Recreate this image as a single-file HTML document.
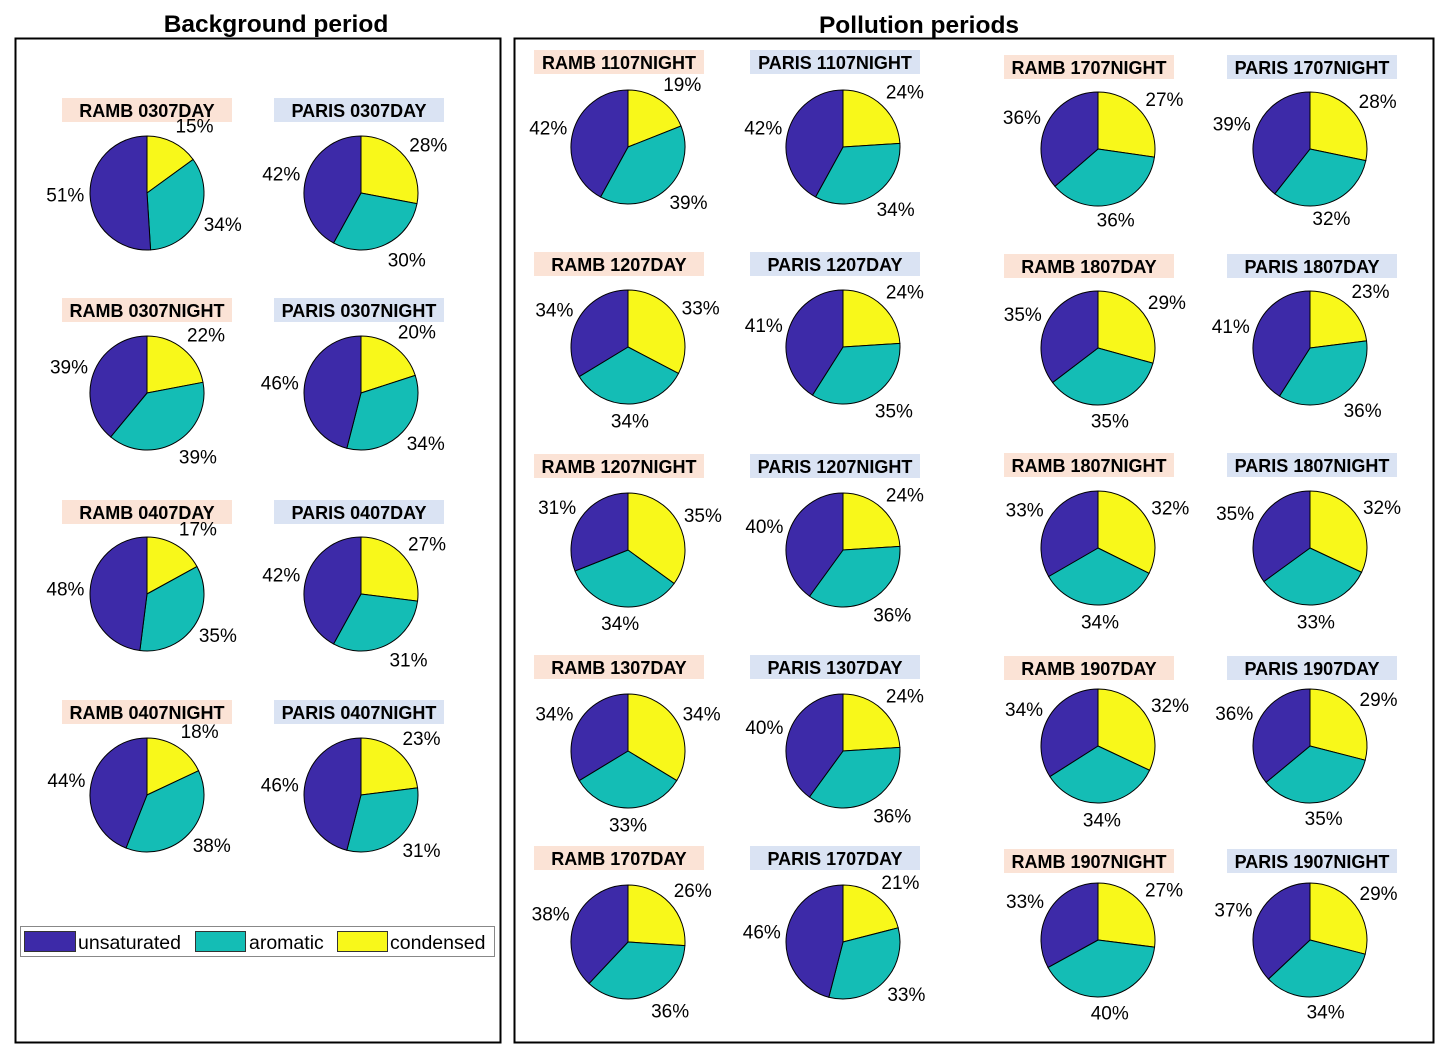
<!DOCTYPE html>
<html><head><meta charset="utf-8"><style>
body{margin:0;background:#fff;}
svg{display:block;font-family:"Liberation Sans",Arial,sans-serif;}
</style></head><body>
<svg id="chart" width="1448" height="1058" viewBox="0 0 1448 1058">
<text x="276" y="32" text-anchor="middle" font-size="24.5" font-weight="bold">Background period</text>
<text x="919" y="33" text-anchor="middle" font-size="24.5" font-weight="bold">Pollution periods</text>
<rect x="15.5" y="38.5" width="485" height="1004" fill="none" stroke="#000" stroke-width="2"/>
<rect x="514.5" y="38.5" width="919" height="1004" fill="none" stroke="#000" stroke-width="2"/>
<g id="pies"></g>
<g>
<rect x="20.5" y="926.5" width="474" height="30" fill="#fff" stroke="#888"/>
<rect x="24.5" y="931.5" width="51" height="20" fill="#3D2AA8" stroke="#333"/>
<text x="78" y="949" font-size="19.5">unsaturated</text>
<rect x="195.5" y="931.5" width="50" height="20" fill="#14BDB5" stroke="#333"/>
<text x="249" y="949" font-size="19.5">aromatic</text>
<rect x="337.5" y="931.5" width="50" height="20" fill="#F8F81A" stroke="#333"/>
<text x="390" y="949" font-size="19.5">condensed</text>
</g>
</svg>
<script>
const labels = ["RAMB 0307DAY","PARIS 0307DAY","RAMB 0307NIGHT","PARIS 0307NIGHT","RAMB 0407DAY","PARIS 0407DAY","RAMB 0407NIGHT","PARIS 0407NIGHT",
"RAMB 1107NIGHT","RAMB 1207DAY","RAMB 1207NIGHT","RAMB 1307DAY","RAMB 1707DAY",
"PARIS 1107NIGHT","PARIS 1207DAY","PARIS 1207NIGHT","PARIS 1307DAY","PARIS 1707DAY",
"RAMB 1707NIGHT","RAMB 1807DAY","RAMB 1807NIGHT","RAMB 1907DAY","RAMB 1907NIGHT",
"PARIS 1707NIGHT","PARIS 1807DAY","PARIS 1807NIGHT","PARIS 1907DAY","PARIS 1907NIGHT"];
const unsat = [51,42,39,46,48,42,44,46, 42,34,31,34,38, 42,41,40,40,46, 36,35,33,34,33, 39,41,35,36,37];
const arom  = [34,30,39,34,35,31,38,31, 39,34,34,33,36, 34,35,36,36,33, 36,35,34,34,40, 32,36,33,35,34];
const cond  = [15,28,22,20,17,27,18,23, 19,33,35,34,26, 24,24,24,24,21, 27,29,32,32,27, 28,23,32,29,29];

const colsLeft=[147,361], rowsLeft=[193,393,594,795], labYLeft=[110,310,512,712], labDxLeft=[0,-2];
const colsRight=[628,843,1098,1310], rowsRightA=[147,347,550,751,942], rowsRightB=[149,348,548,746,940];
const labYRightA=[62,264,466,667,858], labYRightB=[67,266,465,668,861], labDxRight=[-9,-8,-9,2];
const R=57, NS="http://www.w3.org/2000/svg";
const g=document.getElementById('pies');
function mk(tag,attrs){const e=document.createElementNS(NS,tag);for(const k in attrs)e.setAttribute(k,attrs[k]);return e;}
function pos(i){
  if(i<8){const c=i%2,r=Math.floor(i/2);return [colsLeft[c], rowsLeft[r], colsLeft[c]+labDxLeft[c], labYLeft[r]];}
  const j=i-8, c=Math.floor(j/5), r=j%5;
  const cy=(c<2?rowsRightA:rowsRightB)[r];
  const ly=(c<2?labYRightA:labYRightB)[r];
  return [colsRight[c], cy, colsRight[c]+labDxRight[c], ly];
}
labels.forEach((lab,i)=>{
  const [cx,cy,lx,ly]=pos(i);
  const pg=mk('g',{});
  
  
  const isR=lab.startsWith('RAMB');
  const lb=mk('rect',{x:lx-85,y:ly-12,width:170,height:24,fill:isR?'#FBE3D6':'#DAE3F3'});
  
  
  pg.appendChild(lb);
  const lt=mk('text',{x:lx,y:ly+7,'text-anchor':'middle','font-size':18,'font-weight':'bold'});
  lt.textContent=lab;
  
  
  pg.appendChild(lt);
  const vals=[cond[i],arom[i],unsat[i]], cols=['#F8F81A','#14BDB5','#3D2AA8'], names=['condensed','aromatic','unsaturated'];
  const tot=vals[0]+vals[1]+vals[2];
  let a=0;
  vals.forEach((v,k)=>{
    const a0=a/tot*2*Math.PI, a1=(a+v)/tot*2*Math.PI; a+=v;
    const x0=cx+R*Math.sin(a0), y0=cy-R*Math.cos(a0), x1=cx+R*Math.sin(a1), y1=cy-R*Math.cos(a1);
    const large=(a1-a0)>Math.PI?1:0;
    const p=mk('path',{d:`M${cx},${cy} L${x0},${y0} A${R},${R} 0 ${large} 1 ${x1},${y1} Z`,fill:cols[k],stroke:'#000','stroke-width':1});
    
    
    pg.appendChild(p);
    const am=(a0+a1)/2, lr=R*1.1, s=Math.sin(am), c=Math.cos(am);
    const px=cx+lr*s, py=cy-lr*c;
    const anchor = Math.abs(s)<0.35 ? 'middle' : (s>0?'start':'end');
    const t=mk('text',{x:px,y:py+6-12*c,'text-anchor':anchor,'font-size':19});
    t.textContent=v+'%';
    
    
    pg.appendChild(t);
  });
  g.appendChild(pg);
});
</script>
</body></html>
